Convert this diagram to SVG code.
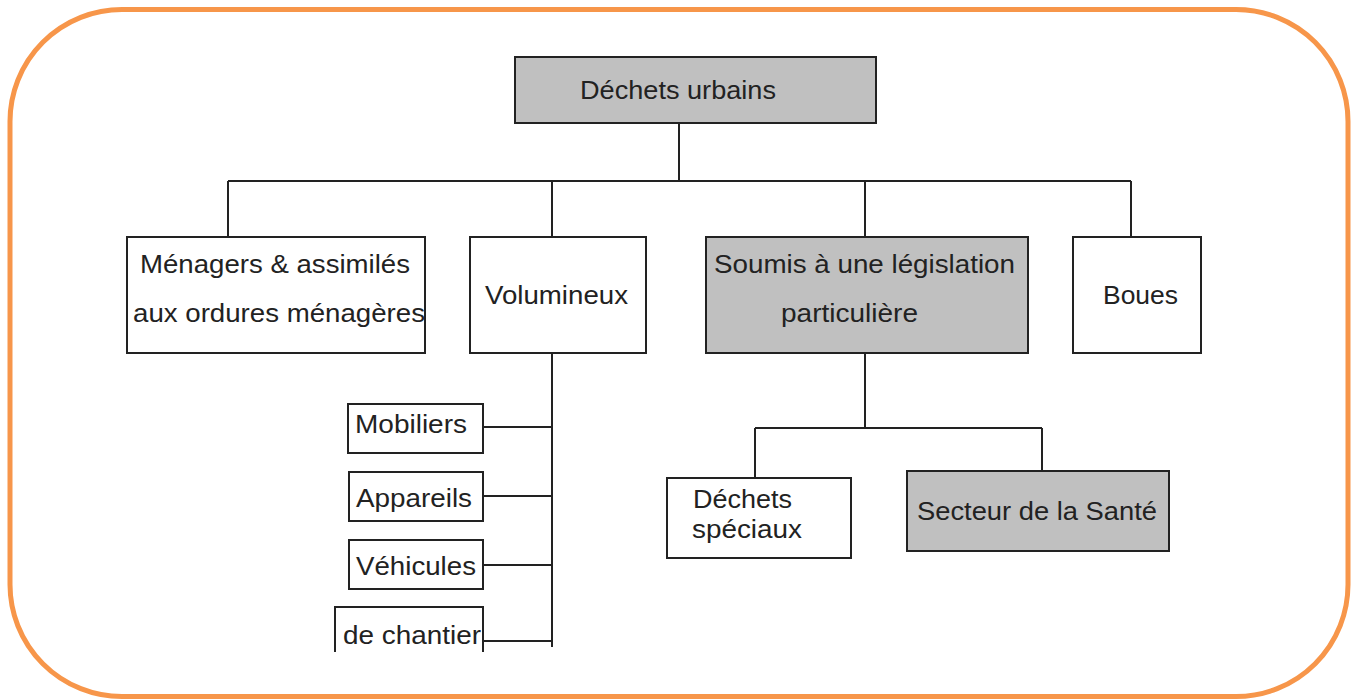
<svg xmlns="http://www.w3.org/2000/svg" width="1352" height="700" viewBox="0 0 1352 700">
  <style>
    .box { fill: #ffffff; stroke: #222222; stroke-width: 2; }
    .grey { fill: #c0c0c0; }
    .lbl { font-family: "Liberation Sans", Arial, sans-serif; font-size: 26px; fill: #222222; }
    .wire { fill: none; stroke: #222222; stroke-width: 2; }
  </style>
  <rect width="1352" height="700" fill="#ffffff"/>
  <!-- outer frame -->
  <rect x="10" y="9.5" width="1338" height="687" rx="112" ry="112" fill="none" stroke="#f7964a" stroke-width="5"/>

  <!-- connectors -->
  <g id="connectors" class="wire">
    <path d="M679 123 V181 M228 181 H1131 M228 181 V237 M552 181 V237 M865 181 V237 M1131 181 V237"/>
    <path d="M552 353 V647 M483 427 H552 M483 496 H552 M483 565 H552 M483 641 H552"/>
    <path d="M865 353 V428 M755 428 H1042 M755 428 V478 M1042 428 V471"/>
  </g>

  <g id="n-urbains">
    <rect class="box grey" x="515" y="57" width="361" height="66"/>
    <text class="lbl" x="580" y="99" textLength="196" lengthAdjust="spacingAndGlyphs">Déchets urbains</text>
  </g>
  <g id="n-menagers">
    <rect class="box" x="127" y="237" width="298" height="116"/>
    <text class="lbl" x="140" y="273" textLength="270" lengthAdjust="spacingAndGlyphs">Ménagers &amp; assimilés</text>
    <text class="lbl" x="133" y="322" textLength="292" lengthAdjust="spacingAndGlyphs">aux ordures ménagères</text>
  </g>
  <g id="n-volumineux">
    <rect class="box" x="470" y="237" width="176" height="116"/>
    <text class="lbl" x="485" y="304" textLength="143" lengthAdjust="spacingAndGlyphs">Volumineux</text>
  </g>
  <g id="n-soumis">
    <rect class="box grey" x="706" y="237" width="322" height="116"/>
    <text class="lbl" x="714" y="273" textLength="301" lengthAdjust="spacingAndGlyphs">Soumis à une législation</text>
    <text class="lbl" x="781" y="322" textLength="137" lengthAdjust="spacingAndGlyphs">particulière</text>
  </g>
  <g id="n-boues">
    <rect class="box" x="1073" y="237" width="128" height="116"/>
    <text class="lbl" x="1103" y="304" textLength="75" lengthAdjust="spacingAndGlyphs">Boues</text>
  </g>
  <g id="n-mobiliers">
    <rect class="box" x="348" y="404" width="135" height="49"/>
    <text class="lbl" x="355" y="433" textLength="112" lengthAdjust="spacingAndGlyphs">Mobiliers</text>
  </g>
  <g id="n-appareils">
    <rect class="box" x="349" y="472" width="134" height="49"/>
    <text class="lbl" x="356" y="507" textLength="116" lengthAdjust="spacingAndGlyphs">Appareils</text>
  </g>
  <g id="n-vehicules">
    <rect class="box" x="349" y="540" width="134" height="49"/>
    <text class="lbl" x="356" y="575" textLength="120" lengthAdjust="spacingAndGlyphs">Véhicules</text>
  </g>
  <g id="n-chantier">
    <path class="wire" d="M335 652 V607 H483 V652"/>
    <text class="lbl" x="343" y="644" textLength="138" lengthAdjust="spacingAndGlyphs">de chantier</text>
  </g>
  <g id="n-speciaux">
    <rect class="box" x="667" y="478" width="184" height="80"/>
    <text class="lbl" x="693" y="508" textLength="99" lengthAdjust="spacingAndGlyphs">Déchets</text>
    <text class="lbl" x="692" y="538" textLength="110" lengthAdjust="spacingAndGlyphs">spéciaux</text>
  </g>
  <g id="n-sante">
    <rect class="box grey" x="907" y="471" width="262" height="80"/>
    <text class="lbl" x="917" y="520" textLength="240" lengthAdjust="spacingAndGlyphs">Secteur de la Santé</text>
  </g>
</svg>
